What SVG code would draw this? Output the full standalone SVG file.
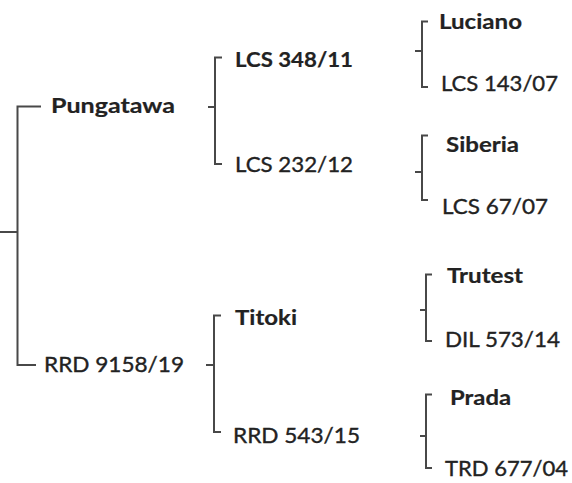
<svg xmlns="http://www.w3.org/2000/svg" width="572" height="483" viewBox="0 0 572 483">
<style>
.t{font-family:Lato,"Liberation Sans",sans-serif;font-size:21px;fill:#222222;stroke:#222222;stroke-width:0.35px}
.b{font-weight:bold;stroke-width:0.2px}
.c{fill:none;stroke:#484848;stroke-width:2;stroke-linecap:butt;stroke-linejoin:miter}
</style>
<rect width="572" height="483" fill="#ffffff"/>
<g id="connectors" class="c">
<path d="M0 232H17.5M41 106.5H17.5V365H36"/>
<path d="M208 107H215M222 57.5H215V164H222"/>
<path d="M415 51H422M428 21.5H422V87H428"/>
<path d="M415 172H422M428 135.5H422V200H428"/>
<path d="M206 365H214M221 315.5H214V432H221"/>
<path d="M420 310H426M432 274.5H426V341H432"/>
<path d="M420 436H426M432 394.5H426V468H432"/>
</g>
<g id="pungatawa"><text class="t b" x="51" y="113" textLength="124" lengthAdjust="spacingAndGlyphs">Pungatawa</text></g>
<g id="rrd9158"><text class="t" x="44" y="372" textLength="140" lengthAdjust="spacingAndGlyphs">RRD 9158/19</text></g>
<g id="lcs348"><text class="t b" x="235" y="67" textLength="118" lengthAdjust="spacingAndGlyphs">LCS 348/11</text></g>
<g id="lcs232"><text class="t" x="235" y="172" textLength="118" lengthAdjust="spacingAndGlyphs">LCS 232/12</text></g>
<g id="titoki"><text class="t b" x="235" y="325" textLength="62" lengthAdjust="spacingAndGlyphs">Titoki</text></g>
<g id="rrd543"><text class="t" x="233" y="443" textLength="127" lengthAdjust="spacingAndGlyphs">RRD 543/15</text></g>
<g id="luciano"><text class="t b" x="439" y="29" textLength="83" lengthAdjust="spacingAndGlyphs">Luciano</text></g>
<g id="lcs143"><text class="t" x="441" y="91" textLength="117" lengthAdjust="spacingAndGlyphs">LCS 143/07</text></g>
<g id="siberia"><text class="t b" x="446" y="152" textLength="73" lengthAdjust="spacingAndGlyphs">Siberia</text></g>
<g id="lcs67"><text class="t" x="442" y="214" textLength="106" lengthAdjust="spacingAndGlyphs">LCS 67/07</text></g>
<g id="trutest"><text class="t b" x="447" y="283" textLength="76" lengthAdjust="spacingAndGlyphs">Trutest</text></g>
<g id="dil573"><text class="t" x="445" y="347" textLength="115" lengthAdjust="spacingAndGlyphs">DIL 573/14</text></g>
<g id="prada"><text class="t b" x="450" y="405" textLength="61" lengthAdjust="spacingAndGlyphs">Prada</text></g>
<g id="trd677"><text class="t" x="445" y="476" textLength="123" lengthAdjust="spacingAndGlyphs">TRD 677/04</text></g>
</svg>
